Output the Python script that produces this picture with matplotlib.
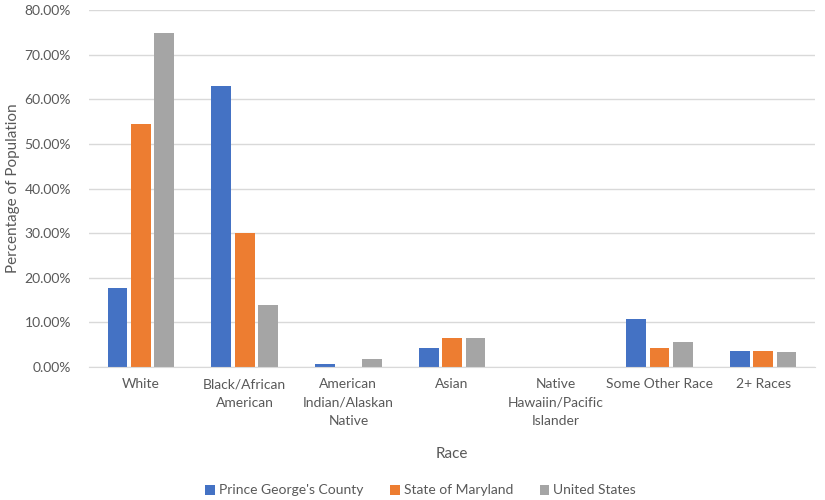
import numpy as np
import matplotlib
matplotlib.use("Agg")
import matplotlib.pyplot as plt
from matplotlib.ticker import FuncFormatter

plt.rcParams['font.family'] = ['Lato', 'DejaVu Sans']

races = ['White', 'Black/African\nAmerican', 'American\nIndian/Alaskan\nNative', 'Asian',
         'Native\nHawaiin/Pacific\nIslander', 'Some Other Race', '2+ Races']
series = ["Prince George's County", 'State of Maryland', 'United States']
pg_county = [17.8, 63.0, 0.6, 4.3, 0.02, 10.7, 3.6]
maryland = [54.4, 30.1, 0.05, 6.6, 0.02, 4.3, 3.6]
usa = [74.9, 14.0, 1.7, 6.6, 0.05, 5.5, 3.3]
colors = ['#4472C4', '#ED7D31', '#A5A5A5']

text_color = '#595959'

fig = plt.figure(figsize=(8.25, 5), dpi=100)
ax = fig.add_axes([0.108, 0.266, 0.88, 0.714])

x = np.arange(len(races))
width = 0.19
step = 0.225
for i, (vals, name) in enumerate(zip([pg_county, maryland, usa], series)):
    ax.bar(x + (i - 1) * step, vals, width, color=colors[i], label=name, zorder=3)

ax.set_ylim(0, 80)
ax.set_xlim(-0.5, len(races) - 0.5)
ax.set_yticks(np.arange(0, 81, 10))
ax.yaxis.set_major_formatter(FuncFormatter(lambda v, p: f'{v:.2f}%'))
ax.grid(axis='y', color='#D9D9D9', linewidth=1, zorder=0)
for s in ['top', 'right', 'left']:
    ax.spines[s].set_visible(False)
ax.spines['bottom'].set_color('#D9D9D9')
ax.spines['bottom'].set_zorder(4)
ax.tick_params(length=0, labelsize=10, labelcolor=text_color)
ax.tick_params(axis='x', pad=8)
ax.tick_params(axis='y', pad=13)
ax.set_xticks(x)
ax.set_xticklabels(races, va='top', linespacing=1.65)

ax.set_xlabel('Race', fontsize=11, color=text_color, labelpad=14)
ax.set_ylabel('Percentage of Population', fontsize=11, color=text_color, labelpad=3)

fig.legend(loc='lower center', bbox_to_anchor=(0.51, -0.018), ncol=3, frameon=False,
           fontsize=10, labelcolor=text_color, handlelength=0.7, handleheight=0.7,
           handletextpad=0.3, columnspacing=1.9)

fig.savefig('out.png', dpi=100)
